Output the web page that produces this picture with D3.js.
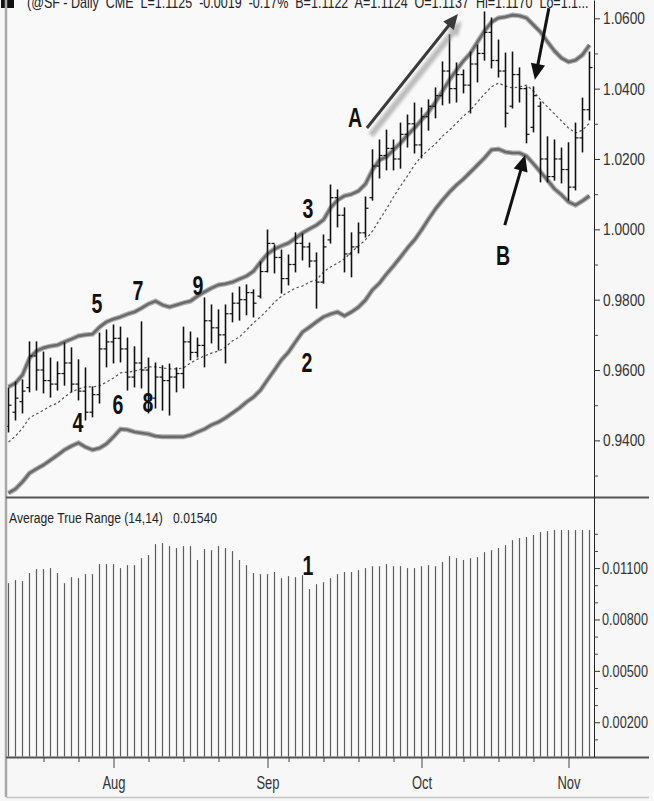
<!DOCTYPE html>
<html><head><meta charset="utf-8">
<script src="https://cdn.jsdelivr.net/npm/d3@7"></script>
<style>html,body{margin:0;padding:0;background:#f7f7f7;} svg{display:block;}</style>
</head><body><svg id="c" width="654" height="801"></svg>
<script>
// ---------- DATA ----------
const highs = [.9549,.9566,.9572,.9680,.9680,.9651,.9634,.9623,.9677,.9663,
.9629,.9606,.9552,.9705,.9714,.9728,.9722,.9691,.9666,.9737,
.9634,.9620,.9612,.9617,.9606,.9722,.9708,.9691,.9805,.9785,
.9771,.9785,.9819,.9836,.9842,.9828,.9907,.9998,.9956,.9941,
.9927,.9990,.9987,.9961,.9933,.9984,1.0126,1.0112,1.0061,.9990,
1.0018,1.0092,1.0226,1.0254,1.0282,1.0254,1.0302,1.0325,1.0359,1.0345,
1.0368,1.0402,1.0476,1.0553,1.0473,1.0453,1.0504,1.0524,1.0618,1.0601,
1.0538,1.0501,1.0504,1.0459,1.0405,1.0405,1.0362,1.0263,1.0254,1.0231,
1.0246,1.0302,1.0373,1.0504];
const lows = [.9424,.9458,.9478,.9538,.9543,.9535,.9523,.9543,.9557,.9538,
.9515,.9458,.9467,.9506,.9609,.9620,.9623,.9543,.9552,.9549,
.9478,.9492,.9486,.9472,.9538,.9549,.9629,.9637,.9609,.9677,
.9657,.9620,.9737,.9742,.9757,.9751,.9805,.9879,.9876,.9819,
.9842,.9879,.9913,.9893,.9776,.9847,.9961,1.0007,.9879,.9865,
.9933,.9978,1.0083,1.0146,1.0169,1.0169,1.0174,1.0234,1.0217,1.0203,
1.0282,1.0317,1.0354,1.0359,1.0362,1.0388,1.0331,1.0419,1.0481,1.0459,
1.0433,1.0291,1.0345,1.0362,1.0246,1.0277,1.0135,1.0135,1.0140,1.0132,
1.0083,1.0112,1.0220,1.0311];
const opens = [.9440,.9480,.9510,.9550,.9640,.9600,.9570,.9560,.9590,.9620,
.9560,.9540,.9480,.9530,.9660,.9680,.9690,.9660,.9580,.9620,
.9600,.9520,.9580,.9570,.9580,.9590,.9680,.9650,.9670,.9740,
.9720,.9700,.9760,.9790,.9800,.9820,.9810,.9880,.9960,.9920,
.9860,.9900,.9960,.9950,.9910,.9850,.9970,1.0090,1.0040,.9930,
.9950,.9990,1.0090,1.0180,1.0210,1.0230,1.0200,1.0270,1.0300,1.0240,
1.0320,1.0350,1.0380,1.0450,1.0400,1.0440,1.0410,1.0470,1.0500,1.0560,
1.0480,1.0450,1.0350,1.0440,1.0400,1.0290,1.0350,1.0200,1.0150,1.0200,
1.0170,1.0120,1.0260,1.0340];
const closes = [.9500,.9520,.9540,.9640,.9600,.9570,.9560,.9590,.9620,.9560,
.9540,.9480,.9530,.9660,.9680,.9690,.9660,.9580,.9620,.9600,
.9520,.9580,.9570,.9580,.9590,.9680,.9650,.9670,.9740,.9720,
.9700,.9760,.9790,.9800,.9820,.9790,.9880,.9960,.9920,.9860,
.9900,.9960,.9950,.9910,.9850,.9950,1.0090,1.0040,.9930,.9950,
.9990,1.0060,1.0180,1.0210,1.0230,1.0200,1.0270,1.0300,1.0240,1.0320,
1.0350,1.0380,1.0450,1.0400,1.0440,1.0410,1.0470,1.0500,1.0560,1.0480,
1.0450,1.0330,1.0440,1.0400,1.0270,1.0380,1.0200,1.0150,1.0200,1.0170,
1.0120,1.0260,1.0340,1.0460];
const upperBand = [.9552,.9563,.9586,.9634,.9654,.9663,.9668,.9671,.9680,.9688,
.9697,.9700,.9702,.9722,.9737,.9745,.9751,.9759,.9765,.9776,
.9788,.9796,.9785,.9779,.9785,.9791,.9796,.9810,.9822,.9833,
.9842,.9845,.9850,.9859,.9867,.9881,.9907,.9930,.9944,.9953,
.9961,.9975,.9990,1.0001,1.0012,1.0027,1.0061,1.0083,1.0095,1.0100,
1.0109,1.0129,1.0169,1.0197,1.0206,1.0226,1.0245,1.0268,1.0288,1.0311,
1.0334,1.0362,1.0393,1.0425,1.0453,1.0479,1.0501,1.0533,1.0564,1.0589,
1.0601,1.0604,1.0609,1.0607,1.0601,1.0581,1.0561,1.0533,1.0507,1.0487,
1.0476,1.0481,1.0496,1.0524];
const middleLine = [.9395,.9412,.9435,.9464,.9475,.9486,.9498,.9506,.9523,.9538,
.9546,.9552,.9552,.9555,.9566,.9577,.9592,.9594,.9597,.9603,
.9609,.9609,.9606,.9603,.9603,.9606,.9620,.9631,.9640,.9648,
.9654,.9665,.9683,.9694,.9714,.9734,.9751,.9771,.9793,.9810,
.9822,.9833,.9839,.9850,.9856,.9879,.9893,.9904,.9916,.9936,
.9953,.9970,.9995,1.0027,1.0058,1.0092,1.0123,1.0152,1.0183,1.0208,
1.0226,1.0243,1.0265,1.0282,1.0302,1.0322,1.0339,1.0362,1.0385,1.0405,
1.0416,1.0407,1.0402,1.0405,1.0410,1.0393,1.0368,1.0348,1.0328,1.0308,
1.0288,1.0274,1.0282,1.0302];
const lowerBand = [.9250,.9262,.9282,.9307,.9319,.9330,.9344,.9358,.9373,.9384,
.9393,.9381,.9373,.9378,.9390,.9410,.9432,.9430,.9424,.9421,
.9418,.9412,.9410,.9410,.9410,.9410,.9415,.9424,.9432,.9444,
.9452,.9464,.9478,.9492,.9509,.9523,.9543,.9572,.9600,.9629,
.9651,.9680,.9708,.9722,.9737,.9751,.9759,.9765,.9754,.9765,
.9779,.9799,.9828,.9847,.9873,.9896,.9921,.9947,.9970,.9998,
1.0029,1.0058,1.0083,1.0106,1.0126,1.0143,1.0163,1.0183,1.0203,1.0226,
1.0228,1.0220,1.0217,1.0217,1.0208,1.0186,1.0163,1.0140,1.0115,1.0098,
1.0078,1.0069,1.0081,1.0095];
const atrValues = [.01012,.01030,.01024,.01071,.01094,.01094,.01100,.01071,.01012,.01047,
.01041,.01065,.01065,.01123,.01123,.01123,.01100,.01117,.01117,.01158,
.01176,.01240,.01246,.01228,.01217,.01228,.01228,.01147,.01211,.01205,
.01228,.01217,.01199,.01147,.01117,.01071,.01065,.01065,.01077,.01041,
.01053,.01047,.01059,.00977,.01006,.01018,.01041,.01065,.01077,.01077,
.01088,.01100,.01111,.01111,.01123,.01111,.01111,.01100,.01100,.01111,
.01117,.01111,.01135,.01170,.01158,.01147,.01158,.01164,.01193,.01205,
.01217,.01234,.01263,.01275,.01281,.01293,.01310,.01316,.01322,.01322,
.01322,.01322,.01322,.01322];
const priceTicks = [1.06,1.04,1.02,1.00,0.98,0.96,0.94];
const priceMinorTicks = [1.05,1.03,1.01,0.99,0.97,0.95,0.93];
const atrTicks = [0.011,0.008,0.005,0.002];
const atrMinorTicks = [0.013,0.012,0.010,0.009,0.007,0.006,0.004,0.003,0.001];
const monthLabels = ["Aug","Sep","Oct","Nov"];
const monthStart = [15,37,59,80];
const weekStart = [5,10,20,25,30,40,45,50,55,65,70,75];
const headerText = "(@SF - Daily  CME  L=1.1125  -0.0019  -0.17%  B=1.1122  A=1.1124  O=1.1137  Hi=1.1170  Lo=1.1...";
const atrTitle = "Average True Range (14,14)";
const atrLast = "0.01540";
// annotation labels: [text, bar index, price]  (ATR label uses ATR value)
const priceNotes = [["5",12.64,0.9791],["7",18.5,0.9828],["9",27.07,0.9842],["3",42.79,1.0061],
  ["4",9.93,0.9452],["6",15.64,0.9503],["8",19.93,0.9509],["2",42.64,0.9623],["A",49.5,1.0319],["B",70.64,0.9927]];
const atrNotes = [["1",42.79,0.01117]];
// arrows: [fromIndex, fromPrice, toIndex, toPrice]
const arrowA = [51.2,1.0288,64.2,1.0612];
const arrowTop = [77.2,1.0629,75.2,1.0425];
const arrowB = [70.9,1.0012,73.8,1.0211];

// ---------- DRAWING ----------
const svg = d3.select("#c");
const W = 654, H = 801;
const FONT = "Liberation Sans, Arial, sans-serif";
const x = d3.scaleLinear().domain([0, 83]).range([8.5, 589.5]);
const y = d3.scaleLinear().domain([0.9239, 1.0652]).range([497, 0]);
const ya = d3.scaleLinear().domain([0, 0.01515]).range([756.5, 497]);
const axisX = 594;

// squeeze a text horizontally so it spans `width` px starting at (tx, ty)
function fitText(t, tx, ty, width) {
  const n = t.node().getComputedTextLength();
  const s = width / n;
  t.attr("x", 0).attr("transform", `translate(${tx},${ty}) scale(${s},1)`);
}

svg.append("rect").attr("width", W).attr("height", H).attr("fill", "#f7f7f7");
svg.append("rect").attr("x", 7).attr("y", 0).attr("width", axisX - 7).attr("height", 757).attr("fill", "#f9f9f9");

const defs = svg.append("defs");
defs.append("filter").attr("id", "blur").append("feGaussianBlur").attr("stdDeviation", 1.6);
defs.append("filter").attr("id", "soft").append("feGaussianBlur").attr("stdDeviation", 0.6);

// header (cut off at top, like the reference)
svg.append("rect").attr("x", 1).attr("y", -4).attr("width", 13).attr("height", 12).attr("fill", "#111");
fitText(svg.append("text").attr("y", 0).attr("font-family", FONT).attr("font-size", 16).attr("fill", "#222")
  .style("white-space", "pre").text(headerText), 27, 8, 562);

// Bands
const line = arr => d3.line().x((d, i) => x(i)).y(d => y(d))(arr);
const bandG = svg.append("g");
[upperBand, lowerBand].forEach(b => {
  bandG.append("path").attr("d", line(b)).attr("fill", "none").attr("stroke", "#b0b0b0").attr("stroke-width", 5).attr("filter", "url(#soft)");
  bandG.append("path").attr("d", line(b)).attr("fill", "none").attr("stroke", "#6a6a6a").attr("stroke-width", 2.6).attr("stroke-linejoin", "round");
});
bandG.append("path").attr("d", line(middleLine)).attr("fill", "none").attr("stroke", "#555")
  .attr("stroke-width", 1.2).attr("stroke-dasharray", "2.5,2.5");

// OHLC bars
const bars = svg.append("g").attr("stroke", "#111").attr("stroke-width", 1.6);
highs.forEach((h, i) => {
  const cx = x(i);
  bars.append("line").attr("x1", cx).attr("x2", cx).attr("y1", y(h) - 0.5).attr("y2", y(lows[i]) + 0.5);
  bars.append("line").attr("x1", cx - 3).attr("x2", cx).attr("y1", y(opens[i])).attr("y2", y(opens[i])).attr("stroke-width", 1.2);
  bars.append("line").attr("x1", cx).attr("x2", cx + 3).attr("y1", y(closes[i])).attr("y2", y(closes[i])).attr("stroke-width", 1.2);
});

// ATR histogram
const atrG = svg.append("g").attr("stroke", "#5c5c5c").attr("stroke-width", 1.2);
atrValues.forEach((v, i) => {
  atrG.append("line").attr("x1", x(i)).attr("x2", x(i)).attr("y1", ya(v)).attr("y2", ya(0));
});
fitText(svg.append("text").attr("font-family", FONT).attr("font-size", 15).attr("fill", "#222").text(atrTitle), 9, 523, 154);
fitText(svg.append("text").attr("font-family", FONT).attr("font-size", 15).attr("fill", "#222").text(atrLast), 173, 523, 44);

// Frame lines
svg.append("line").attr("x1", 6).attr("x2", 6).attr("y1", 0).attr("y2", 797).attr("stroke", "#a8a8a8").attr("stroke-width", 2.5);
svg.append("line").attr("x1", 6).attr("x2", 649).attr("y1", 497.5).attr("y2", 497.5).attr("stroke", "#555").attr("stroke-width", 2);
svg.append("line").attr("x1", 6).attr("x2", 649).attr("y1", 757.5).attr("y2", 757.5).attr("stroke", "#555").attr("stroke-width", 2);
svg.append("line").attr("x1", 6).attr("x2", 649).attr("y1", 797.5).attr("y2", 797.5).attr("stroke", "#c4c4c4").attr("stroke-width", 1.5);

// Right axes
const styleAxis = (g, width) => {
  g.select(".domain").attr("stroke", "#222");
  g.selectAll(".tick line").attr("stroke", "#333");
  g.selectAll(".tick text").attr("font-family", FONT).attr("font-size", 17).attr("fill", "#333")
    .each(function () {
      const t = d3.select(this);
      const tx = +t.attr("x");
      fitText(t, tx, 0, width);
    });
};
const pAxis = svg.append("g").attr("transform", `translate(${axisX},0)`)
  .call(d3.axisRight(y).tickValues(priceTicks).tickSize(6).tickSizeOuter(0).tickPadding(3).tickFormat(d3.format(".4f")));
styleAxis(pAxis, 42);
svg.append("g").attr("transform", `translate(${axisX},0)`)
  .call(d3.axisRight(y).tickValues(priceMinorTicks).tickSize(4).tickSizeOuter(0).tickFormat(""))
  .call(g => { g.select(".domain").remove(); g.selectAll("line").attr("stroke", "#444"); });

const aAxis = svg.append("g").attr("transform", `translate(${axisX},0)`)
  .call(d3.axisRight(ya).tickValues(atrTicks).tickSize(6).tickSizeOuter(0).tickPadding(2).tickFormat(d3.format(".5f")));
styleAxis(aAxis, 46);
svg.append("g").attr("transform", `translate(${axisX},0)`)
  .call(d3.axisRight(ya).tickValues(atrMinorTicks).tickSize(4).tickSizeOuter(0).tickFormat(""))
  .call(g => { g.select(".domain").remove(); g.selectAll("line").attr("stroke", "#444"); });

// Bottom time axis
const xAxis = svg.append("g").attr("transform", "translate(0,757)")
  .call(d3.axisBottom(x).tickValues(monthStart).tickSize(11).tickPadding(4).tickFormat((d, i) => monthLabels[i]));
xAxis.select(".domain").remove();
xAxis.selectAll(".tick line").attr("stroke", "#444");
xAxis.selectAll(".tick text").attr("font-family", FONT).attr("font-size", 18)
  .attr("fill", "#333").attr("dy", "0.95em").attr("transform", "scale(0.72,1)");
const xMinor = svg.append("g").attr("transform", "translate(0,757)")
  .call(d3.axisBottom(x).tickValues(weekStart).tickSize(5).tickFormat(""));
xMinor.select(".domain").remove();
xMinor.selectAll("line").attr("stroke", "#444");

// Annotations
const noteG = svg.append("g");
const addNote = (t, px, py) => {
  noteG.append("text").attr("transform", `translate(${px},${py}) scale(0.7,1)`)
    .attr("text-anchor", "middle").attr("dominant-baseline", "central")
    .attr("font-family", FONT).attr("font-weight", "bold")
    .attr("font-size", 28).attr("fill", "#111").text(t);
};
priceNotes.forEach(n => addNote(n[0], x(n[1]), y(n[2])));
atrNotes.forEach(n => addNote(n[0], x(n[1]), ya(n[2])));

// Arrows
const drawArrow = (a, color, width, head, shadow) => {
  const x1 = x(a[0]), y1 = y(a[1]), x2 = x(a[2]), y2 = y(a[3]);
  const ang = Math.atan2(y2 - y1, x2 - x1);
  const bx = x2 - head * Math.cos(ang), by = y2 - head * Math.sin(ang);
  const hw = head * 0.45;
  const px = -Math.sin(ang) * hw, py = Math.cos(ang) * hw;
  const g = svg.append("g");
  if (shadow) {
    const sg = g.append("g").attr("transform", "translate(4,7)").attr("filter", "url(#blur)").attr("opacity", 0.55);
    sg.append("line").attr("x1", x1).attr("y1", y1).attr("x2", bx).attr("y2", by).attr("stroke", "#888").attr("stroke-width", width + 3);
    sg.append("path").attr("d", `M${x2},${y2}L${bx + px},${by + py}L${bx - px},${by - py}Z`).attr("fill", "#888");
  }
  g.append("line").attr("x1", x1).attr("y1", y1).attr("x2", bx + Math.cos(ang) * 2).attr("y2", by + Math.sin(ang) * 2)
    .attr("stroke", color).attr("stroke-width", width);
  g.append("path").attr("d", `M${x2},${y2}L${bx + px},${by + py}L${bx - px},${by - py}Z`).attr("fill", color);
};
drawArrow(arrowA, "#3a3a3a", 3, 15, true);
drawArrow(arrowTop, "#111", 3, 16, false);
drawArrow(arrowB, "#111", 3, 16, false);
</script></body></html>
